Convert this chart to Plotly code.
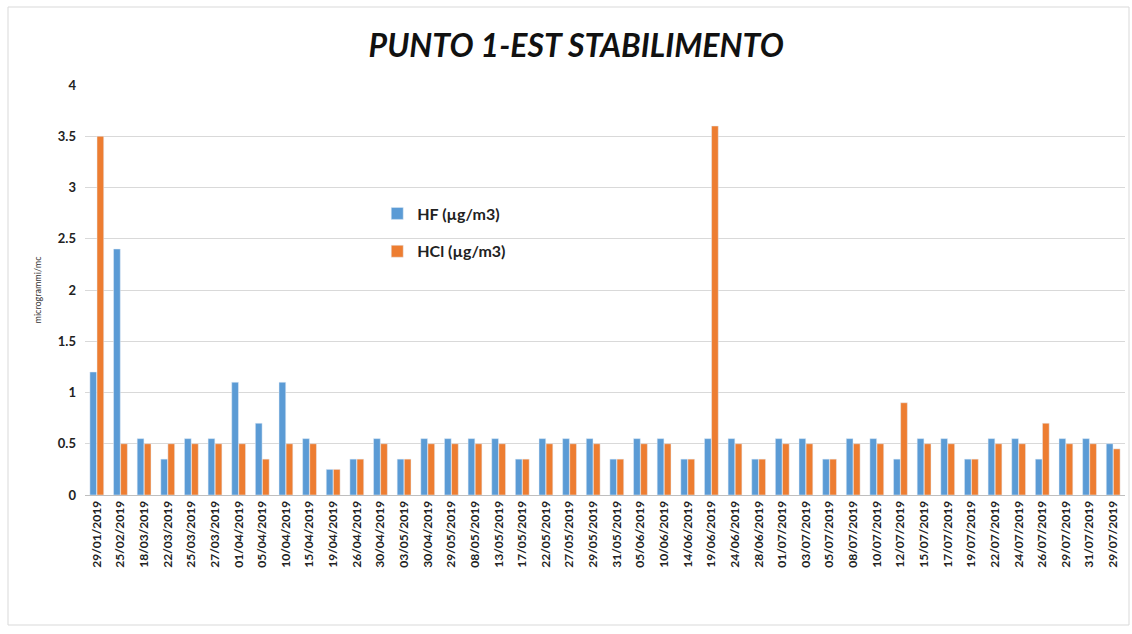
import plotly.graph_objects as go

dates = ["29/01/2019", "25/02/2019", "18/03/2019", "22/03/2019", "25/03/2019", "27/03/2019",
         "01/04/2019", "05/04/2019", "10/04/2019", "15/04/2019", "19/04/2019", "26/04/2019",
         "30/04/2019", "03/05/2019", "30/04/2019", "29/05/2019", "08/05/2019", "13/05/2019",
         "17/05/2019", "22/05/2019", "27/05/2019", "29/05/2019", "31/05/2019", "05/06/2019",
         "10/06/2019", "14/06/2019", "19/06/2019", "24/06/2019", "28/06/2019", "01/07/2019",
         "03/07/2019", "05/07/2019", "08/07/2019", "10/07/2019", "12/07/2019", "15/07/2019",
         "17/07/2019", "19/07/2019", "22/07/2019", "24/07/2019", "26/07/2019", "29/07/2019",
         "31/07/2019", "29/07/2019"]

hf = [1.2, 2.4, 0.55, 0.35, 0.55, 0.55, 1.1, 0.7, 1.1, 0.55, 0.25, 0.35,
      0.55, 0.35, 0.55, 0.55, 0.55, 0.55, 0.35, 0.55, 0.55, 0.55, 0.35, 0.55,
      0.55, 0.35, 0.55, 0.55, 0.35, 0.55, 0.55, 0.35, 0.55, 0.55, 0.35, 0.55,
      0.55, 0.35, 0.55, 0.55, 0.35, 0.55, 0.55, 0.5]

hcl = [3.5, 0.5, 0.5, 0.5, 0.5, 0.5, 0.5, 0.35, 0.5, 0.5, 0.25, 0.35,
       0.5, 0.35, 0.5, 0.5, 0.5, 0.5, 0.35, 0.5, 0.5, 0.5, 0.35, 0.5,
       0.5, 0.35, 3.6, 0.5, 0.35, 0.5, 0.5, 0.35, 0.5, 0.5, 0.9, 0.5,
       0.5, 0.35, 0.5, 0.5, 0.7, 0.5, 0.5, 0.45]

y_ticks = [0, 0.5, 1, 1.5, 2, 2.5, 3, 3.5, 4]

pos = list(range(len(dates)))
font = "Lato, 'Open Sans', sans-serif"

fig = go.Figure()
fig.add_trace(go.Bar(x=pos, y=hf, name="HF (µg/m3)", marker_color="#5B9BD5", legendgroup="a"))
fig.add_trace(go.Bar(x=pos, y=hcl, name="HCl (µg/m3)", marker_color="#ED7D31", legendgroup="b"))

fig.update_layout(
    width=1132, height=634,
    paper_bgcolor="white", plot_bgcolor="white",
    margin=dict(l=85, r=7, t=85, b=139),
    barmode="group", bargap=0.4, bargroupgap=0.05,
    title=dict(text="<b><i>PUNTO 1-EST STABILIMENTO</i></b>", x=0.509, xanchor="center",
               y=0.928, yanchor="middle",
               font=dict(family=font, size=32, color="#111111")),
    legend=dict(x=0.281, y=0.728, xanchor="left", yanchor="top",
                bgcolor="rgba(0,0,0,0)",
                font=dict(family=font, size=16, color="#222222", weight="bold"),
                tracegroupgap=14),
    font=dict(family=font, color="#333333"),
)
fig.update_xaxes(
    tickmode="array", tickvals=pos, ticktext=dates, tickangle=-90,
    range=[-0.5, len(dates) - 0.5],
    tickfont=dict(family=font, size=12, color="#222222", weight="bold"),
    showgrid=False, showline=True, linecolor="#bfbfbf", linewidth=1, ticks="",
)
fig.update_yaxes(
    range=[0, 4], tickvals=y_ticks, ticktext=[str(v) for v in y_ticks],
    tickfont=dict(family=font, size=13, color="#222222", weight="bold"),
    showgrid=True, gridcolor="#d9d9d9", gridwidth=1, zeroline=False,
    title=dict(text="microgrammi/mc", font=dict(family=font, size=9, color="#333333"), standoff=14),
    ticklabelstandoff=8,
)
fig.add_shape(type="rect", xref="paper", yref="paper",
              x0=-77 / 1040, x1=1.0 + 4 / 1040, y0=-130 / 410, y1=1 + 78 / 410,
              line=dict(color="#d9d9d9", width=1), fillcolor="rgba(0,0,0,0)", layer="below")

fig.write_html("out.html")
